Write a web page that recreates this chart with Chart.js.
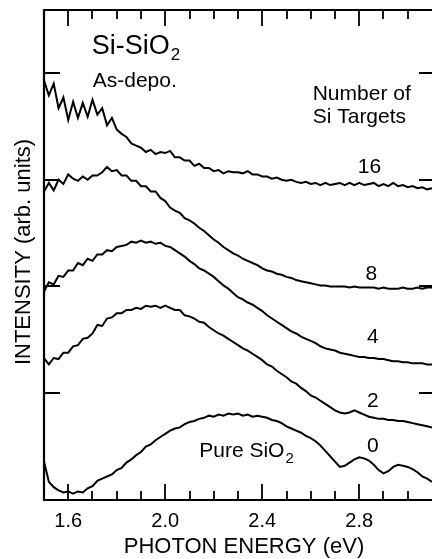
<!DOCTYPE html>
<html>
<head>
<meta charset="utf-8">
<script src="https://cdn.jsdelivr.net/npm/chart.js@4/dist/chart.umd.min.js"></script>
<style>
  html, body { margin: 0; padding: 0; background: #fff; }
  #wrap { width: 432px; height: 559px; position: relative; }
</style>
</head>
<body>
<div id="wrap"><canvas id="c" width="432" height="559"></canvas></div>
<script>
// Photon energy (eV)
const energy = [
  1.50, 1.52, 1.54, 1.56, 1.58, 1.60, 1.62, 1.64, 1.66, 1.68,
  1.70, 1.72, 1.74, 1.76, 1.78, 1.80, 1.82, 1.84, 1.86, 1.88,
  1.90, 1.92, 1.94, 1.96, 1.98, 2.00, 2.02, 2.04, 2.06, 2.08,
  2.10, 2.12, 2.14, 2.16, 2.18, 2.20, 2.22, 2.24, 2.26, 2.28,
  2.30, 2.32, 2.34, 2.36, 2.38, 2.40, 2.42, 2.44, 2.46, 2.48,
  2.50, 2.52, 2.54, 2.56, 2.58, 2.60, 2.62, 2.64, 2.66, 2.68,
  2.70, 2.72, 2.74, 2.76, 2.78, 2.80, 2.82, 2.84, 2.86, 2.88,
  2.90, 2.92, 2.94, 2.96, 2.98, 3.00, 3.02, 3.04, 3.06, 3.08,
  3.10
];

// PL intensity (arb. units, curves offset vertically) per number of Si targets
const targets16 = [
  3.93, 3.79, 3.90, 3.67, 3.77, 3.56, 3.73, 3.58, 3.72, 3.59,
  3.75, 3.61, 3.67, 3.51, 3.58, 3.47, 3.43, 3.40, 3.34, 3.32,
  3.30, 3.26, 3.28, 3.24, 3.26, 3.25, 3.27, 3.21, 3.21, 3.18,
  3.18, 3.13, 3.15, 3.11, 3.11, 3.08, 3.09, 3.06, 3.08, 3.07,
  3.07, 3.06, 3.08, 3.05, 3.05, 3.03, 3.03, 3.01, 3.02, 3.00,
  2.99, 3.00, 2.98, 2.97, 2.98, 2.96, 2.97, 2.95, 2.97, 2.95,
  2.96, 2.97, 2.95, 2.97, 2.95, 2.97, 2.95, 2.96, 2.97, 2.94,
  2.96, 2.94, 2.97, 2.94, 2.95, 2.93, 2.94, 2.92, 2.93, 2.91,
  2.92
];
const targets8 = [
  2.89, 2.97, 2.90, 3.00, 2.96, 3.05, 3.01, 2.99, 3.03, 3.00,
  3.04, 3.04, 3.07, 3.12, 3.08, 3.09, 3.04, 3.04, 2.99, 2.99,
  2.94, 2.94, 2.89, 2.89, 2.83, 2.80, 2.74, 2.71, 2.69, 2.64,
  2.62, 2.59, 2.55, 2.52, 2.48, 2.44, 2.41, 2.37, 2.34, 2.31,
  2.29, 2.26, 2.24, 2.22, 2.20, 2.17, 2.15, 2.14, 2.12, 2.11,
  2.09, 2.08, 2.06, 2.05, 2.04, 2.03, 2.02, 2.01, 2.01, 2.00,
  2.00, 2.00, 2.00, 1.99, 2.00, 1.99, 1.99, 1.99, 1.99, 1.98,
  1.99, 1.98, 1.98, 1.98, 1.99, 1.98, 1.98, 1.99, 1.98, 1.99,
  1.99
];
const targets4 = [
  1.95, 2.04, 2.02, 2.10, 2.09, 2.15, 2.15, 2.22, 2.20, 2.26,
  2.24, 2.30, 2.30, 2.34, 2.33, 2.37, 2.38, 2.39, 2.42, 2.41,
  2.43, 2.41, 2.42, 2.40, 2.41, 2.38, 2.37, 2.34, 2.31, 2.28,
  2.24, 2.21, 2.17, 2.15, 2.12, 2.09, 2.05, 2.01, 1.98, 1.94,
  1.90, 1.88, 1.85, 1.83, 1.80, 1.77, 1.73, 1.70, 1.67, 1.64,
  1.61, 1.58, 1.56, 1.53, 1.51, 1.49, 1.47, 1.44, 1.42, 1.41,
  1.40, 1.38, 1.37, 1.36, 1.35, 1.34, 1.34, 1.33, 1.33, 1.32,
  1.32, 1.31, 1.30, 1.30, 1.29, 1.29, 1.28, 1.28, 1.28, 1.27,
  1.27
];
const targets2 = [
  1.33, 1.27, 1.33, 1.32, 1.38, 1.38, 1.44, 1.45, 1.51, 1.52,
  1.56, 1.64, 1.63, 1.70, 1.71, 1.75, 1.75, 1.78, 1.78, 1.80,
  1.79, 1.82, 1.81, 1.82, 1.80, 1.82, 1.80, 1.78, 1.78, 1.73,
  1.72, 1.70, 1.67, 1.66, 1.62, 1.59, 1.56, 1.54, 1.51, 1.48,
  1.45, 1.42, 1.40, 1.37, 1.34, 1.31, 1.27, 1.25, 1.21, 1.18,
  1.15, 1.11, 1.09, 1.05, 1.02, 0.98, 0.96, 0.93, 0.90, 0.87,
  0.84, 0.82, 0.81, 0.82, 0.84, 0.82, 0.80, 0.78, 0.77, 0.76,
  0.76, 0.75, 0.75, 0.74, 0.74, 0.73, 0.72, 0.71, 0.70, 0.69,
  0.68
];
const targets0 = [
  0.36, 0.17, 0.12, 0.09, 0.07, 0.08, 0.06, 0.08, 0.07, 0.11,
  0.13, 0.18, 0.20, 0.22, 0.24, 0.28, 0.30, 0.35, 0.38, 0.42,
  0.45, 0.50, 0.52, 0.56, 0.59, 0.62, 0.65, 0.67, 0.68, 0.71,
  0.73, 0.74, 0.76, 0.77, 0.79, 0.78, 0.80, 0.79, 0.81, 0.80,
  0.81, 0.79, 0.80, 0.78, 0.79, 0.78, 0.77, 0.75, 0.74, 0.72,
  0.69, 0.67, 0.65, 0.63, 0.60, 0.58, 0.55, 0.51, 0.46, 0.41,
  0.36, 0.31, 0.32, 0.35, 0.38, 0.40, 0.39, 0.37, 0.33, 0.28,
  0.25, 0.27, 0.31, 0.33, 0.32, 0.31, 0.29, 0.26, 0.22, 0.20,
  0.17
];

const seriesNames = ['16', '8', '4', '2', '0'];
const seriesValues = [targets16, targets8, targets4, targets2, targets0];

// Axis ticks
const xMajorTicks = [1.6, 2.0, 2.4, 2.8];
const xTickLabels = ['1.6', '2.0', '2.4', '2.8'];
const xMinorTicks = [1.7, 1.8, 1.9, 2.1, 2.2, 2.3, 2.5, 2.6, 2.7, 2.9, 3.0];
const yTicks = [1, 2, 3, 4];

const FONT = '"Liberation Sans", Arial, Helvetica, sans-serif';

// Text placed inside the plot, anchored in data coordinates
const notes = [
  { text: 'Si-SiO', sub: '2', e: 1.697, v: 4.178, size: 27, subSize: 17, subDrop: 6, align: 'left' },
  { text: 'As-depo.', e: 1.701, v: 3.869, size: 21, align: 'left' },
  { text: 'Number of', e: 2.608, v: 3.747, size: 21, align: 'left' },
  { text: 'Si Targets', e: 2.608, v: 3.532, size: 21, align: 'left' },
  { text: '16', e: 2.842, v: 3.063, size: 21, align: 'center' },
  { text: '8', e: 2.850, v: 2.061, size: 21, align: 'center' },
  { text: '4', e: 2.856, v: 1.471, size: 21, align: 'center' },
  { text: '2', e: 2.856, v: 0.871, size: 21, align: 'center' },
  { text: '0', e: 2.856, v: 0.450, size: 21, align: 'center' },
  { text: 'Pure SiO', sub: '2', e: 2.140, v: 0.403, size: 21, subSize: 15, subDrop: 6, align: 'left' }
];

const frameAndText = {
  id: 'frameAndText',
  afterDraw(chart) {
    const { ctx, chartArea: a, scales: { x, y } } = chart;
    ctx.save();
    ctx.strokeStyle = '#000';
    ctx.fillStyle = '#000';
    ctx.lineCap = 'butt';

    // frame: left, bottom, top (right edge runs off the page)
    ctx.lineWidth = 2.2;
    ctx.beginPath();
    ctx.moveTo(a.left, a.top);
    ctx.lineTo(a.right + 4, a.top);
    ctx.moveTo(a.left, a.top - 1);
    ctx.lineTo(a.left, a.bottom + 1);
    ctx.moveTo(a.left - 1, a.bottom);
    ctx.lineTo(a.right + 4, a.bottom);
    ctx.stroke();

    // inward ticks on bottom and top
    ctx.lineWidth = 1.8;
    ctx.beginPath();
    const xt = (v, len) => {
      const px = Math.round(x.getPixelForValue(v));
      ctx.moveTo(px, a.bottom); ctx.lineTo(px, a.bottom - len);
      ctx.moveTo(px, a.top); ctx.lineTo(px, a.top + len);
    };
    xMajorTicks.forEach(v => xt(v, 16));
    xMinorTicks.forEach(v => xt(v, 9));
    // left and right ticks
    yTicks.forEach(v => {
      const py = Math.round(y.getPixelForValue(v));
      ctx.moveTo(a.left, py); ctx.lineTo(a.left + 16, py);
      ctx.moveTo(a.right, py); ctx.lineTo(a.right - 13, py);
    });
    ctx.stroke();

    // tick labels
    ctx.font = '20px ' + FONT;
    ctx.textAlign = 'center';
    ctx.textBaseline = 'alphabetic';
    xMajorTicks.forEach((v, i) => {
      ctx.fillText(xTickLabels[i], x.getPixelForValue(v), a.bottom + 27);
    });

    // axis titles
    ctx.font = '22px ' + FONT;
    ctx.fillText('PHOTON ENERGY (eV)', (a.left + a.right) / 2 + 6, a.bottom + 53);
    ctx.save();
    ctx.translate(30, (a.top + a.bottom) / 2 - 3);
    ctx.rotate(-Math.PI / 2);
    ctx.fillText('INTENSITY (arb. units)', 0, 0);
    ctx.restore();

    // annotations
    notes.forEach(n => {
      const px = x.getPixelForValue(n.e);
      const py = y.getPixelForValue(n.v);
      ctx.font = n.size + 'px ' + FONT;
      ctx.textAlign = n.align;
      ctx.fillText(n.text, px, py);
      if (n.sub) {
        const w = ctx.measureText(n.text).width;
        ctx.font = n.subSize + 'px ' + FONT;
        ctx.textAlign = 'left';
        ctx.fillText(n.sub, px + w + 1, py + n.subDrop);
      }
    });
    ctx.restore();
  }
};

new Chart(document.getElementById('c'), {
  type: 'line',
  data: {
    datasets: seriesValues.map((vals, k) => ({
      label: seriesNames[k],
      data: energy.map((e, i) => ({ x: e, y: vals[i] })),
      borderColor: '#000',
      borderWidth: 2,
      pointRadius: 0,
      tension: 0,
      fill: false
    }))
  },
  options: {
    responsive: false,
    animation: false,
    devicePixelRatio: 1,
    layout: { padding: { left: 44, top: 10, right: 0, bottom: 59 } },
    plugins: { legend: { display: false }, tooltip: { enabled: false } },
    scales: {
      x: { type: 'linear', min: 1.5, max: 3.1, display: false },
      y: { type: 'linear', min: 0, max: 4.59, display: false }
    }
  },
  plugins: [frameAndText]
});
</script>
</body>
</html>
